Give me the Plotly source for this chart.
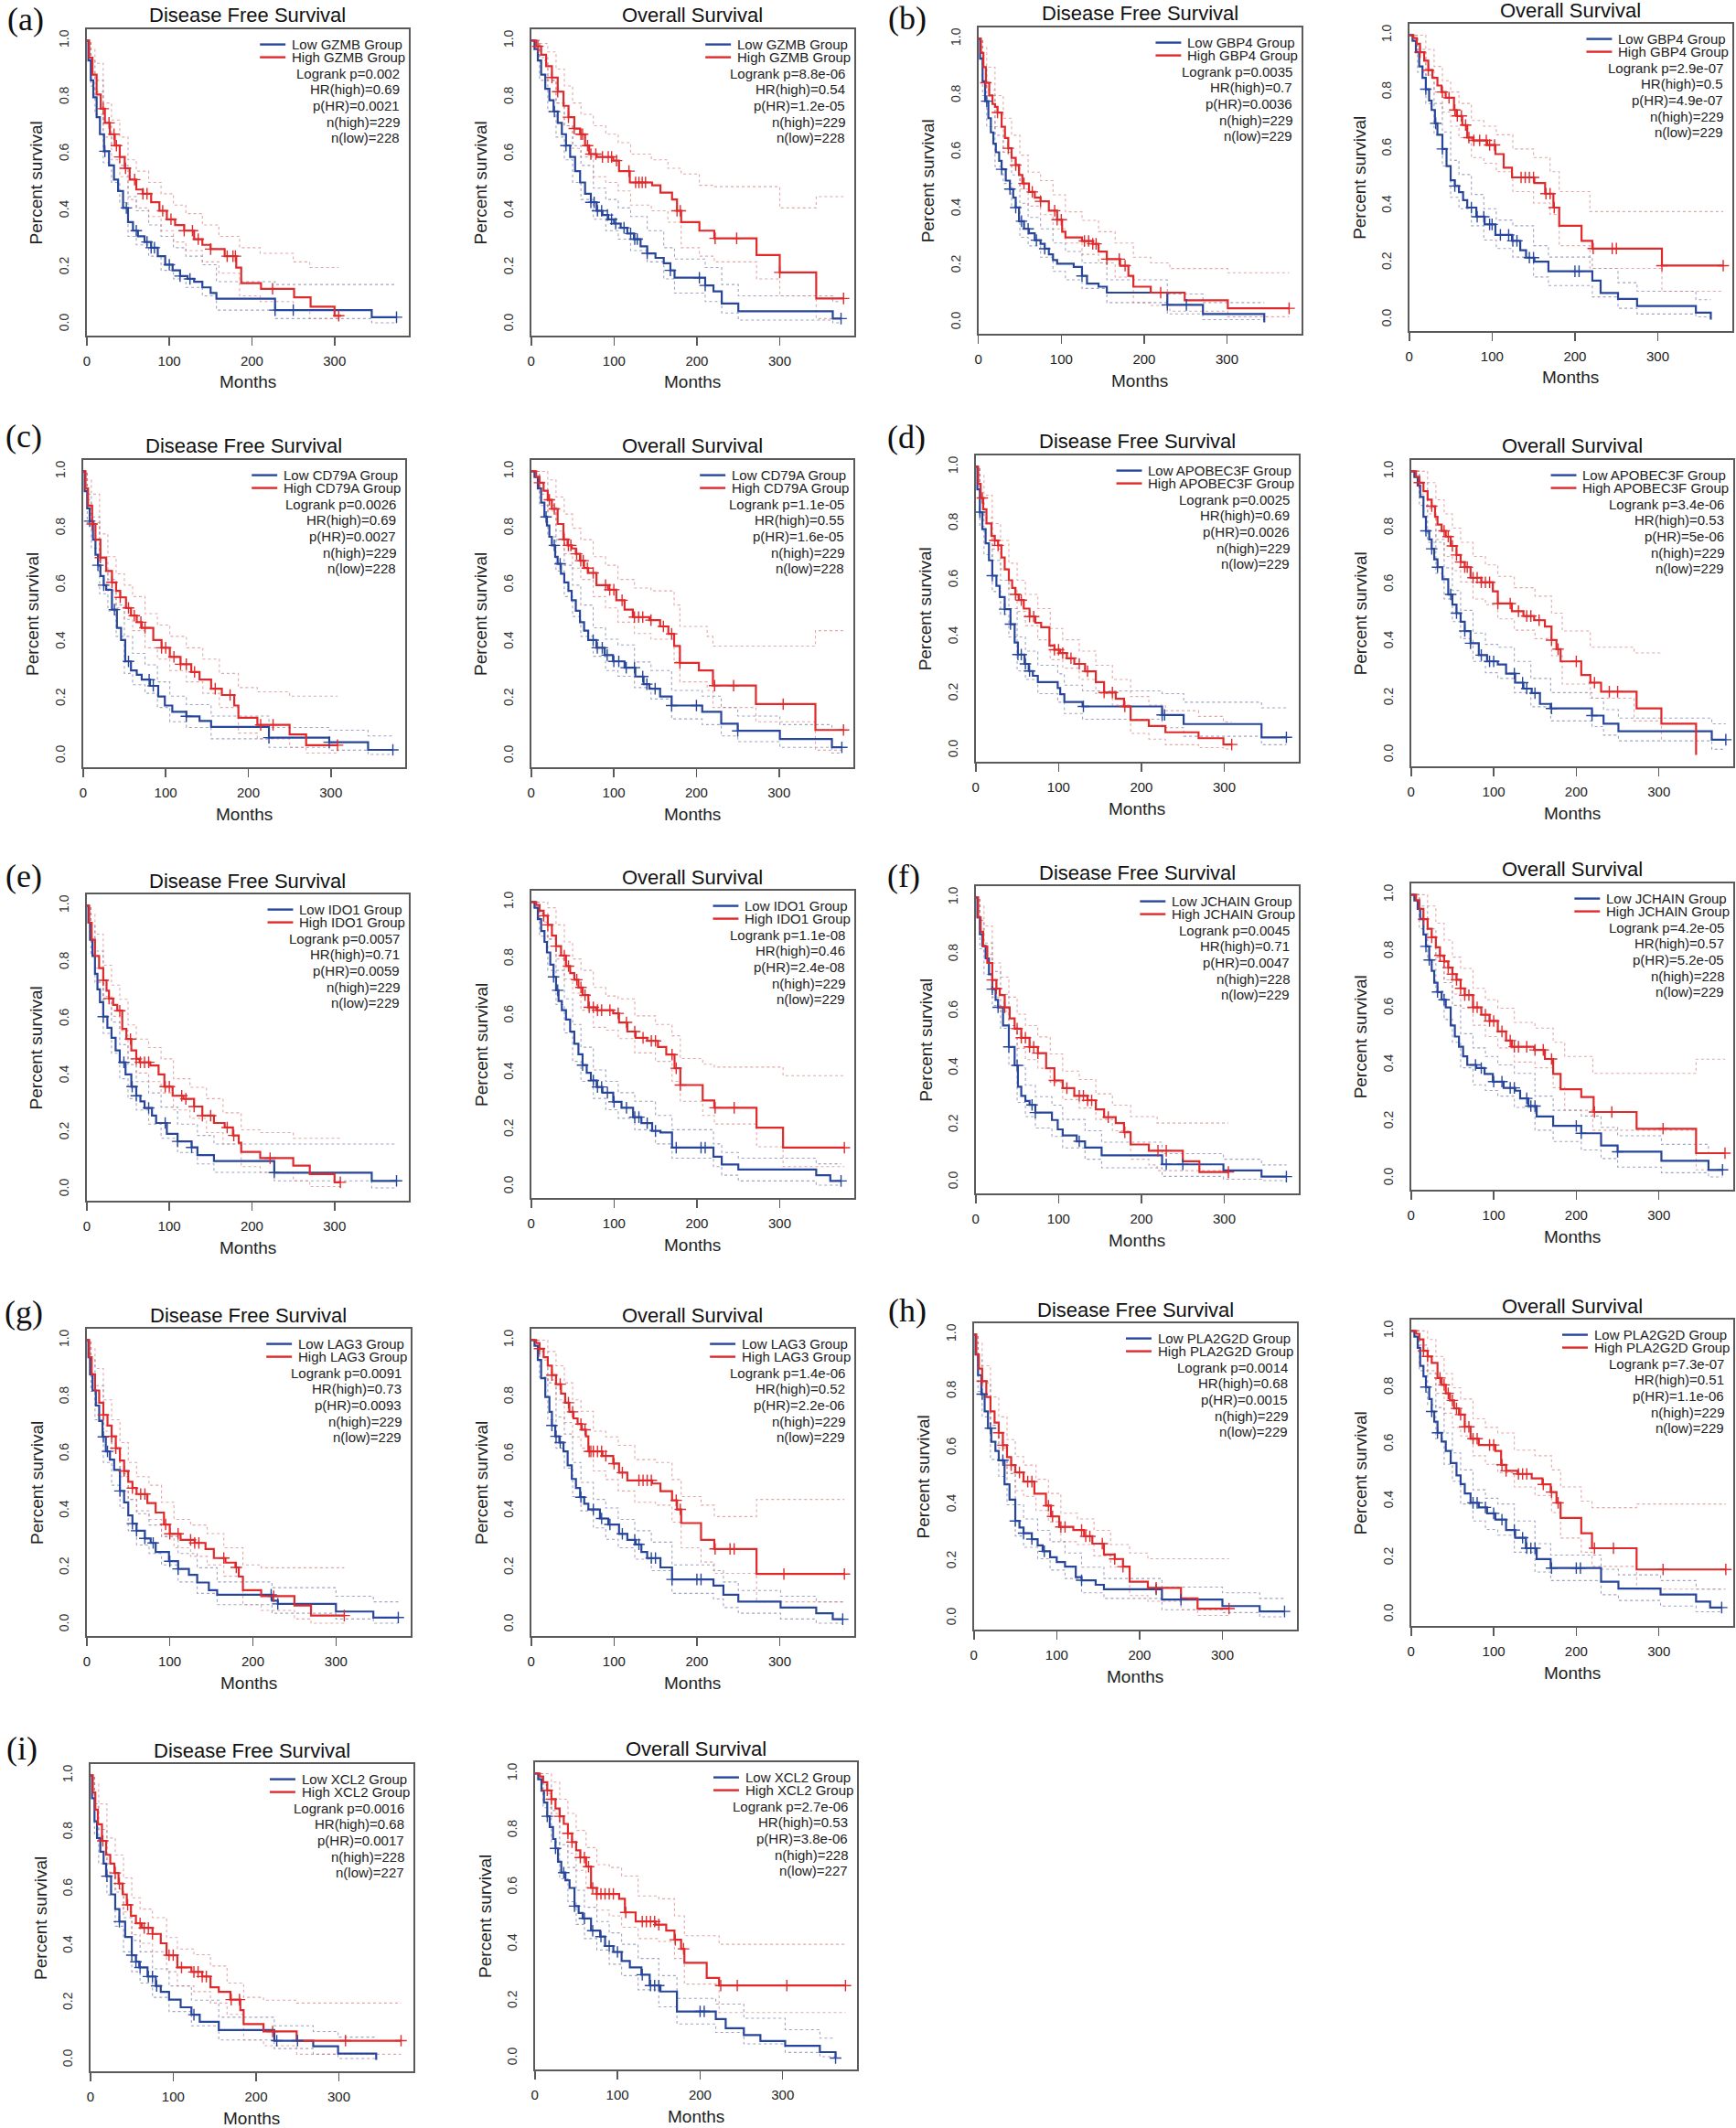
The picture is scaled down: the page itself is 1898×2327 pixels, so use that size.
import plotly.graph_objects as go

FIG_W, FIG_H = 1898, 2327
BLUE = '#27469b'
RED = '#e0292b'
BLUE_CI = 'rgba(120,125,165,0.7)'
RED_CI = 'rgba(215,130,130,0.7)'
FONT = 'Liberation Sans, Arial, sans-serif'
SERIF = 'Liberation Serif, Times New Roman, serif'

X_TICKS = [0, 100, 200, 300]
Y_TICKS = [0.0, 0.2, 0.4, 0.6, 0.8, 1.0]
Y_TICK_TEXT = ['0.0', '0.2', '0.4', '0.6', '0.8', '1.0']
PANEL_LETTERS = ['(a)', '(b)', '(c)', '(d)', '(e)', '(f)', '(g)', '(h)', '(i)']
GENES = ['GZMB', 'GBP4', 'CD79A', 'APOBEC3F', 'IDO1', 'JCHAIN', 'LAG3', 'PLA2G2D', 'XCL2']
TITLES = ['Disease Free Survival', 'Overall Survival']

# ===================== (a) GZMB =====================
A_DFS_LO_T = [0, 2, 5, 8, 12, 16, 21, 27, 33, 38, 44, 50, 56, 62, 70, 78, 86, 95, 104, 113, 122, 130, 140, 150, 157, 228, 345, 375]
A_DFS_LO_S = [1, 0.93, 0.86, 0.8, 0.73, 0.67, 0.61, 0.56, 0.51, 0.47, 0.41, 0.36, 0.33, 0.31, 0.29, 0.27, 0.24, 0.21, 0.19, 0.17, 0.16, 0.15, 0.13, 0.11, 0.09, 0.05, 0.025, 0.025]
A_DFS_HI_T = [0, 3, 7, 12, 17, 22, 28, 34, 40, 46, 52, 60, 68, 78, 88, 97, 107, 118, 130, 140, 150, 167, 181, 187, 211, 251, 271, 300, 308]
A_DFS_HI_S = [1, 0.94, 0.88, 0.81, 0.76, 0.71, 0.67, 0.63, 0.59, 0.55, 0.51, 0.475, 0.46, 0.43, 0.40, 0.37, 0.35, 0.33, 0.30, 0.28, 0.265, 0.24, 0.2, 0.145, 0.125, 0.095, 0.062, 0.03, 0.03]
A_DFS_LO_CI_T = [0, 5, 10, 20, 30, 40, 50, 60, 75, 90, 105, 120, 140, 157, 228, 345, 375]
A_DFS_LO_UP = [1, 0.93, 0.86, 0.71, 0.63, 0.56, 0.45, 0.40, 0.35, 0.31, 0.27, 0.24, 0.21, 0.15, 0.14, 0.14, 0.14]
A_DFS_LO_DN = [1, 0.84, 0.74, 0.57, 0.5, 0.43, 0.31, 0.28, 0.24, 0.19, 0.16, 0.13, 0.1, 0.05, 0.02, 0.005, 0.005]
A_DFS_HI_CI_T = [0, 5, 10, 20, 30, 40, 50, 60, 75, 90, 105, 120, 140, 160, 185, 210, 250, 270, 305]
A_DFS_HI_UP = [1, 0.97, 0.92, 0.78, 0.72, 0.66, 0.58, 0.54, 0.5, 0.46, 0.42, 0.39, 0.35, 0.31, 0.27, 0.25, 0.22, 0.2, 0.2]
A_DFS_HI_DN = [1, 0.89, 0.82, 0.66, 0.58, 0.52, 0.44, 0.41, 0.38, 0.33, 0.29, 0.26, 0.22, 0.18, 0.1, 0.08, 0.05, 0.02, 0.02]
A_DFS_LO_CENS = [22, 48, 60, 73, 78, 82, 100, 113, 125, 228, 250, 375]
A_DFS_HI_CENS = [20, 27, 33, 36, 40, 47, 58, 68, 73, 92, 102, 118, 128, 135, 150, 170, 177, 180, 225, 305]
A_DFS_STATS = ['Logrank p=0.002', 'HR(high)=0.69', 'p(HR)=0.0021', 'n(high)=229', 'n(low)=228']

A_OS_LO_T = [0, 4, 8, 12, 17, 22, 27, 32, 37, 42, 47, 53, 59, 65, 72, 79, 86, 93, 100, 108, 116, 124, 132, 140, 150, 160, 168, 173, 210, 220, 230, 250, 364, 374]
A_OS_LO_S = [1, 0.97, 0.93, 0.88, 0.83, 0.79, 0.75, 0.71, 0.67, 0.63, 0.59, 0.54, 0.5, 0.46, 0.43, 0.40, 0.385, 0.37, 0.355, 0.34, 0.32, 0.30, 0.275, 0.25, 0.234, 0.215, 0.19, 0.164, 0.137, 0.116, 0.073, 0.046, 0.02, 0.02]
A_OS_HI_T = [0, 6, 12, 18, 25, 32, 39, 45, 52, 59, 65, 70, 79, 99, 106, 119, 146, 156, 170, 176, 181, 203, 221, 272, 300, 344, 377]
A_OS_HI_S = [1, 0.98, 0.95, 0.91, 0.87, 0.82, 0.77, 0.73, 0.69, 0.67, 0.63, 0.6, 0.59, 0.577, 0.54, 0.5, 0.49, 0.464, 0.44, 0.40, 0.36, 0.33, 0.303, 0.244, 0.183, 0.091, 0.091]
A_OS_LO_CI_T = [0, 10, 20, 30, 40, 50, 60, 75, 90, 105, 120, 140, 160, 173, 210, 230, 250, 364, 374]
A_OS_LO_UP = [1, 0.94, 0.86, 0.78, 0.7, 0.63, 0.56, 0.48, 0.44, 0.41, 0.38, 0.33, 0.27, 0.23, 0.2, 0.14, 0.1, 0.08, 0.08]
A_OS_LO_DN = [1, 0.86, 0.75, 0.66, 0.58, 0.5, 0.44, 0.37, 0.33, 0.3, 0.26, 0.22, 0.16, 0.11, 0.08, 0.04, 0.015, 0.005, 0.005]
A_OS_HI_CI_T = [0, 10, 20, 30, 40, 50, 60, 75, 90, 105, 120, 145, 165, 181, 203, 221, 272, 300, 344, 377]
A_OS_HI_UP = [1, 0.99, 0.96, 0.9, 0.84, 0.78, 0.74, 0.7, 0.67, 0.64, 0.6, 0.58, 0.55, 0.53, 0.49, 0.485, 0.485, 0.41, 0.45, 0.45]
A_OS_HI_DN = [1, 0.93, 0.86, 0.78, 0.7, 0.62, 0.59, 0.52, 0.5, 0.47, 0.42, 0.4, 0.36, 0.27, 0.24, 0.22, 0.16, 0.1, 0.02, 0.02]
A_OS_LO_CENS = [28, 42, 72, 76, 80, 85, 92, 97, 102, 112, 120, 125, 128, 140, 168, 203, 210, 374]
A_OS_HI_CENS = [8, 25, 32, 45, 52, 60, 62, 68, 72, 78, 86, 93, 97, 103, 118, 126, 130, 134, 138, 176, 180, 222, 248, 300, 377]
A_OS_STATS = ['Logrank p=8.8e-06', 'HR(high)=0.54', 'p(HR)=1.2e-05', 'n(high)=229', 'n(low)=228']

# ===================== (b) GBP4 =====================
B_DFS_LO_T = [0, 2, 5, 8, 12, 15, 18, 21, 25, 28, 33, 38, 42, 45, 49, 55, 61, 68, 75, 80, 85, 90, 95, 115, 125, 131, 145, 155, 228, 271, 345]
B_DFS_LO_S = [1, 0.93, 0.85, 0.78, 0.72, 0.67, 0.63, 0.6, 0.57, 0.54, 0.5, 0.47, 0.44, 0.405, 0.357, 0.33, 0.314, 0.29, 0.277, 0.26, 0.24, 0.22, 0.207, 0.196, 0.164, 0.137, 0.126, 0.105, 0.062, 0.03, 0.0]
B_DFS_HI_T = [0, 3, 6, 9, 13, 17, 20, 23, 28, 32, 36, 40, 45, 49, 53, 61, 68, 75, 85, 95, 101, 105, 125, 138, 145, 155, 171, 181, 187, 208, 249, 301, 375]
B_DFS_HI_S = [1, 0.95, 0.9, 0.845, 0.8, 0.77, 0.76, 0.74, 0.69, 0.65, 0.614, 0.58, 0.555, 0.52, 0.49, 0.46, 0.44, 0.427, 0.394, 0.362, 0.32, 0.30, 0.287, 0.277, 0.25, 0.223, 0.2, 0.164, 0.126, 0.105, 0.078, 0.05, 0.05]
B_DFS_LO_CI_T = [0, 5, 10, 20, 30, 40, 50, 60, 75, 90, 105, 125, 155, 228, 271, 345]
B_DFS_LO_UP = [1, 0.9, 0.8, 0.66, 0.6, 0.52, 0.42, 0.37, 0.33, 0.28, 0.25, 0.21, 0.15, 0.1, 0.07, 0.07]
B_DFS_LO_DN = [1, 0.8, 0.69, 0.55, 0.49, 0.41, 0.3, 0.27, 0.23, 0.18, 0.15, 0.12, 0.07, 0.03, 0.01, 0.01]
B_DFS_HI_CI_T = [0, 5, 10, 20, 30, 40, 50, 60, 75, 90, 105, 125, 145, 165, 187, 208, 231, 301, 375]
B_DFS_HI_UP = [1, 0.97, 0.9, 0.8, 0.72, 0.66, 0.59, 0.53, 0.5, 0.45, 0.39, 0.36, 0.32, 0.28, 0.23, 0.21, 0.19, 0.175, 0.175]
B_DFS_HI_DN = [1, 0.9, 0.82, 0.69, 0.6, 0.55, 0.47, 0.41, 0.38, 0.33, 0.28, 0.24, 0.21, 0.16, 0.07, 0.06, 0.04, 0.02, 0.02]
B_DFS_LO_CENS = [10, 28, 38, 45, 52, 60, 70, 80, 125, 228, 251]
B_DFS_HI_CENS = [9, 23, 36, 45, 55, 65, 75, 92, 95, 100, 128, 133, 138, 142, 155, 170, 177, 220, 375]
B_DFS_STATS = ['Logrank p=0.0035', 'HR(high)=0.7', 'p(HR)=0.0036', 'n(high)=229', 'n(low)=229']

B_OS_LO_T = [0, 4, 8, 12, 16, 20, 24, 27, 31, 34, 40, 45, 50, 55, 60, 65, 70, 81, 91, 104, 124, 134, 141, 151, 168, 221, 231, 252, 275, 346, 364]
B_OS_LO_S = [1, 0.98, 0.94, 0.89, 0.85, 0.81, 0.77, 0.737, 0.69, 0.65, 0.6, 0.54, 0.49, 0.47, 0.448, 0.42, 0.394, 0.362, 0.335, 0.298, 0.277, 0.244, 0.218, 0.204, 0.17, 0.137, 0.094, 0.073, 0.048, 0.025, 0.0]
B_OS_HI_T = [0, 5, 9, 13, 18, 23, 28, 34, 39, 44, 54, 57, 64, 70, 77, 94, 104, 114, 124, 151, 164, 174, 181, 208, 221, 305, 379]
B_OS_HI_S = [1, 0.99, 0.97, 0.94, 0.91, 0.877, 0.85, 0.823, 0.8, 0.78, 0.737, 0.716, 0.684, 0.64, 0.63, 0.614, 0.582, 0.534, 0.5, 0.48, 0.443, 0.394, 0.33, 0.277, 0.25, 0.19, 0.19]
B_OS_LO_CI_T = [0, 10, 20, 30, 40, 50, 60, 75, 90, 105, 125, 150, 168, 221, 252, 275, 346, 364]
B_OS_LO_UP = [1, 0.95, 0.86, 0.76, 0.66, 0.56, 0.51, 0.44, 0.39, 0.35, 0.33, 0.26, 0.22, 0.18, 0.13, 0.1, 0.07, 0.07]
B_OS_LO_DN = [1, 0.87, 0.76, 0.65, 0.54, 0.43, 0.39, 0.33, 0.28, 0.25, 0.22, 0.15, 0.12, 0.08, 0.04, 0.02, 0.01, 0.01]
B_OS_HI_CI_T = [0, 10, 20, 30, 40, 50, 60, 75, 90, 105, 125, 150, 170, 181, 218, 305, 379]
B_OS_HI_UP = [1, 1.0, 0.95, 0.89, 0.84, 0.8, 0.76, 0.7, 0.68, 0.65, 0.6, 0.57, 0.52, 0.45, 0.38, 0.38, 0.38]
B_OS_HI_DN = [1, 0.94, 0.88, 0.8, 0.73, 0.68, 0.64, 0.57, 0.55, 0.52, 0.45, 0.41, 0.37, 0.26, 0.18, 0.1, 0.1]
B_OS_LO_CENS = [20, 32, 40, 55, 75, 82, 90, 97, 100, 110, 120, 125, 130, 145, 150, 200, 205]
B_OS_HI_CENS = [13, 23, 40, 48, 55, 58, 63, 68, 72, 78, 85, 93, 97, 103, 135, 140, 145, 150, 165, 170, 175, 222, 245, 250, 305, 379]
B_OS_STATS = ['Logrank p=2.9e-07', 'HR(high)=0.5', 'p(HR)=4.9e-07', 'n(high)=229', 'n(low)=229']

# ===================== (c) CD79A =====================
C_DFS_LO_T = [0, 2, 5, 8, 12, 15, 18, 21, 25, 28, 35, 41, 46, 51, 58, 65, 71, 81, 91, 99, 108, 125, 141, 155, 225, 298, 345, 375]
C_DFS_LO_S = [1, 0.93, 0.87, 0.825, 0.76, 0.707, 0.67, 0.632, 0.6, 0.584, 0.514, 0.45, 0.407, 0.332, 0.3, 0.285, 0.268, 0.246, 0.209, 0.177, 0.155, 0.139, 0.123, 0.102, 0.064, 0.048, 0.021, 0.021]
C_DFS_HI_T = [0, 3, 6, 11, 15, 21, 28, 35, 40, 45, 52, 58, 65, 71, 85, 95, 105, 118, 131, 141, 155, 168, 183, 188, 211, 250, 270, 308]
C_DFS_HI_S = [1, 0.94, 0.88, 0.815, 0.76, 0.697, 0.65, 0.61, 0.58, 0.557, 0.52, 0.493, 0.47, 0.45, 0.407, 0.38, 0.348, 0.322, 0.295, 0.268, 0.236, 0.214, 0.177, 0.134, 0.109, 0.075, 0.0375, 0.0375]
C_DFS_LO_CI_T = [0, 5, 10, 20, 30, 40, 50, 60, 75, 90, 105, 125, 155, 225, 298, 345, 375]
C_DFS_LO_UP = [1, 0.92, 0.84, 0.69, 0.62, 0.53, 0.42, 0.36, 0.32, 0.26, 0.21, 0.18, 0.14, 0.1, 0.09, 0.07, 0.07]
C_DFS_LO_DN = [1, 0.82, 0.73, 0.57, 0.51, 0.42, 0.29, 0.25, 0.22, 0.17, 0.12, 0.1, 0.06, 0.03, 0.02, 0.005, 0.005]
C_DFS_HI_CI_T = [0, 5, 10, 20, 30, 40, 50, 60, 75, 90, 105, 125, 145, 165, 188, 211, 250, 270, 308]
C_DFS_HI_UP = [1, 0.97, 0.92, 0.78, 0.7, 0.64, 0.6, 0.56, 0.5, 0.46, 0.42, 0.38, 0.34, 0.29, 0.24, 0.225, 0.21, 0.21, 0.21]
C_DFS_HI_DN = [1, 0.9, 0.82, 0.65, 0.58, 0.52, 0.48, 0.44, 0.38, 0.34, 0.3, 0.26, 0.22, 0.17, 0.08, 0.06, 0.03, 0.01, 0.01]
C_DFS_LO_CENS = [8, 18, 25, 38, 55, 80, 85, 125, 225, 298, 375]
C_DFS_HI_CENS = [11, 21, 35, 45, 55, 62, 70, 75, 95, 100, 110, 118, 125, 135, 160, 178, 215, 230, 308]
C_DFS_STATS = ['Logrank p=0.0026', 'HR(high)=0.69', 'p(HR)=0.0027', 'n(high)=229', 'n(low)=228']

C_OS_LO_T = [0, 4, 8, 12, 16, 19, 22, 25, 29, 32, 36, 40, 45, 49, 54, 59, 64, 69, 79, 89, 99, 113, 126, 136, 143, 156, 170, 207, 230, 250, 301, 364, 376]
C_OS_LO_S = [1, 0.98, 0.94, 0.89, 0.84, 0.81, 0.77, 0.74, 0.7, 0.675, 0.64, 0.61, 0.58, 0.547, 0.51, 0.47, 0.44, 0.407, 0.38, 0.354, 0.332, 0.31, 0.279, 0.252, 0.236, 0.209, 0.177, 0.155, 0.113, 0.088, 0.059, 0.03, 0.03]
C_OS_HI_T = [0, 6, 10, 15, 20, 25, 32, 39, 44, 49, 54, 59, 64, 69, 79, 93, 103, 113, 123, 143, 156, 166, 173, 180, 203, 220, 272, 344, 378]
C_OS_HI_S = [1, 0.98, 0.96, 0.932, 0.9, 0.868, 0.815, 0.761, 0.74, 0.729, 0.71, 0.686, 0.66, 0.643, 0.6, 0.584, 0.547, 0.514, 0.488, 0.477, 0.455, 0.429, 0.386, 0.327, 0.3, 0.247, 0.182, 0.091, 0.091]
C_OS_LO_CI_T = [0, 10, 20, 30, 40, 50, 60, 75, 90, 105, 125, 145, 170, 207, 230, 250, 301, 364, 376]
C_OS_LO_UP = [1, 0.96, 0.88, 0.76, 0.67, 0.6, 0.53, 0.45, 0.41, 0.39, 0.33, 0.3, 0.23, 0.21, 0.17, 0.14, 0.11, 0.09, 0.09]
C_OS_LO_DN = [1, 0.88, 0.77, 0.65, 0.56, 0.49, 0.42, 0.35, 0.3, 0.28, 0.24, 0.2, 0.13, 0.11, 0.07, 0.05, 0.03, 0.01, 0.01]
C_OS_HI_CI_T = [0, 10, 20, 30, 40, 50, 60, 75, 90, 105, 125, 145, 173, 180, 213, 220, 272, 344, 378]
C_OS_HI_UP = [1, 1.0, 0.97, 0.91, 0.85, 0.8, 0.76, 0.7, 0.67, 0.62, 0.59, 0.58, 0.53, 0.455, 0.42, 0.386, 0.386, 0.44, 0.44]
C_OS_HI_DN = [1, 0.92, 0.86, 0.79, 0.71, 0.66, 0.62, 0.56, 0.52, 0.47, 0.43, 0.41, 0.33, 0.26, 0.23, 0.17, 0.12, 0.02, 0.02]
C_OS_LO_CENS = [18, 28, 35, 75, 80, 86, 92, 100, 106, 115, 125, 135, 140, 150, 170, 200, 250, 376]
C_OS_HI_CENS = [10, 22, 28, 40, 45, 48, 55, 60, 63, 68, 75, 90, 95, 100, 110, 125, 130, 135, 145, 160, 170, 180, 222, 245, 305, 378]
C_OS_STATS = ['Logrank p=1.1e-05', 'HR(high)=0.55', 'p(HR)=1.6e-05', 'n(high)=229', 'n(low)=228']

# ===================== (d) APOBEC3F =====================
D_DFS_LO_T = [0, 2, 5, 8, 12, 16, 20, 25, 29, 35, 42, 47, 51, 59, 64, 69, 75, 99, 102, 107, 129, 225, 251, 345, 375]
D_DFS_LO_S = [1, 0.92, 0.84, 0.78, 0.73, 0.67, 0.616, 0.58, 0.541, 0.498, 0.445, 0.38, 0.338, 0.305, 0.28, 0.263, 0.241, 0.22, 0.198, 0.171, 0.155, 0.125, 0.093, 0.046, 0.046]
D_DFS_HI_T = [0, 3, 6, 9, 13, 19, 23, 27, 31, 35, 40, 44, 48, 52, 58, 65, 72, 79, 89, 95, 102, 110, 119, 132, 145, 155, 169, 179, 187, 209, 229, 269, 299, 309]
D_DFS_HI_S = [1, 0.94, 0.89, 0.85, 0.8, 0.756, 0.74, 0.723, 0.68, 0.638, 0.6, 0.573, 0.55, 0.53, 0.5, 0.472, 0.45, 0.434, 0.37, 0.355, 0.343, 0.325, 0.305, 0.279, 0.241, 0.204, 0.182, 0.155, 0.107, 0.086, 0.064, 0.043, 0.021, 0.021]
D_DFS_LO_CI_T = [0, 5, 10, 20, 30, 40, 50, 60, 75, 99, 107, 129, 225, 251, 345, 375]
D_DFS_LO_UP = [1, 0.89, 0.8, 0.67, 0.6, 0.5, 0.4, 0.35, 0.3, 0.27, 0.23, 0.21, 0.2, 0.17, 0.15, 0.15]
D_DFS_LO_DN = [1, 0.79, 0.69, 0.56, 0.48, 0.4, 0.28, 0.25, 0.2, 0.17, 0.13, 0.11, 0.08, 0.05, 0.02, 0.02]
D_DFS_HI_CI_T = [0, 5, 10, 20, 30, 40, 50, 60, 75, 90, 105, 125, 145, 165, 187, 209, 229, 269, 299, 309]
D_DFS_HI_UP = [1, 0.97, 0.9, 0.8, 0.74, 0.66, 0.6, 0.55, 0.5, 0.43, 0.39, 0.35, 0.3, 0.25, 0.19, 0.16, 0.14, 0.12, 0.1, 0.1]
D_DFS_HI_DN = [1, 0.9, 0.82, 0.71, 0.64, 0.57, 0.49, 0.44, 0.39, 0.32, 0.29, 0.25, 0.2, 0.16, 0.06, 0.04, 0.02, 0.01, 0.005, 0.005]
D_DFS_LO_CENS = [5, 20, 35, 42, 51, 55, 60, 65, 130, 225, 228, 375]
D_DFS_HI_CENS = [8, 23, 27, 48, 55, 65, 70, 95, 100, 105, 115, 125, 135, 155, 165, 180, 309]
D_DFS_STATS = ['Logrank p=0.0025', 'HR(high)=0.69', 'p(HR)=0.0026', 'n(high)=229', 'n(low)=229']

D_OS_LO_T = [0, 4, 8, 11, 15, 18, 22, 25, 28, 32, 38, 45, 50, 55, 60, 65, 72, 82, 92, 105, 115, 126, 136, 146, 156, 169, 219, 233, 251, 364, 381]
D_OS_LO_S = [1, 0.98, 0.95, 0.91, 0.84, 0.79, 0.76, 0.727, 0.69, 0.662, 0.62, 0.566, 0.53, 0.5, 0.47, 0.437, 0.394, 0.352, 0.33, 0.319, 0.287, 0.255, 0.234, 0.218, 0.18, 0.164, 0.139, 0.11, 0.084, 0.054, 0.054]
D_OS_HI_T = [0, 6, 10, 15, 20, 25, 29, 32, 37, 42, 48, 55, 60, 65, 72, 85, 99, 105, 122, 136, 149, 162, 170, 176, 181, 206, 217, 230, 273, 303, 345]
D_OS_HI_S = [1, 0.98, 0.96, 0.93, 0.9, 0.877, 0.84, 0.812, 0.79, 0.77, 0.737, 0.705, 0.68, 0.662, 0.625, 0.609, 0.577, 0.534, 0.507, 0.49, 0.475, 0.453, 0.405, 0.373, 0.33, 0.282, 0.255, 0.223, 0.164, 0.11, 0.0]
D_OS_LO_CI_T = [0, 10, 20, 30, 40, 50, 60, 75, 90, 105, 125, 145, 169, 219, 233, 251, 364, 381]
D_OS_LO_UP = [1, 0.96, 0.87, 0.75, 0.66, 0.58, 0.51, 0.43, 0.39, 0.38, 0.33, 0.27, 0.22, 0.2, 0.16, 0.13, 0.11, 0.11]
D_OS_LO_DN = [1, 0.88, 0.75, 0.64, 0.55, 0.47, 0.41, 0.33, 0.29, 0.27, 0.22, 0.17, 0.12, 0.1, 0.07, 0.05, 0.02, 0.02]
D_OS_HI_CI_T = [0, 10, 20, 30, 40, 50, 60, 75, 90, 105, 125, 150, 170, 183, 217, 270, 303]
D_OS_HI_UP = [1, 1.0, 0.96, 0.9, 0.85, 0.8, 0.75, 0.7, 0.67, 0.63, 0.59, 0.56, 0.5, 0.437, 0.38, 0.36, 0.36]
D_OS_HI_DN = [1, 0.92, 0.85, 0.76, 0.7, 0.65, 0.61, 0.55, 0.53, 0.48, 0.44, 0.41, 0.35, 0.25, 0.2, 0.12, 0.05]
D_OS_LO_CENS = [18, 25, 32, 48, 55, 65, 72, 85, 95, 100, 125, 135, 140, 150, 170, 219, 381]
D_OS_HI_CENS = [10, 25, 40, 45, 50, 55, 60, 65, 68, 75, 80, 85, 90, 95, 105, 120, 130, 140, 145, 155, 170, 178, 200, 222, 240, 250]
D_OS_STATS = ['Logrank p=3.4e-06', 'HR(high)=0.53', 'p(HR)=5e-06', 'n(high)=229', 'n(low)=229']

# ===================== (e) IDO1 =====================
E_DFS_LO_T = [0, 2, 4, 7, 10, 13, 16, 20, 25, 30, 35, 40, 47, 54, 60, 65, 70, 79, 84, 97, 110, 127, 134, 154, 227, 345, 375]
E_DFS_LO_S = [1, 0.94, 0.88, 0.823, 0.76, 0.705, 0.66, 0.609, 0.57, 0.534, 0.49, 0.448, 0.405, 0.362, 0.33, 0.31, 0.287, 0.26, 0.234, 0.196, 0.169, 0.148, 0.121, 0.1, 0.059, 0.03, 0.03]
E_DFS_HI_T = [0, 3, 6, 10, 15, 20, 24, 27, 32, 37, 43, 48, 54, 60, 64, 77, 87, 94, 104, 117, 130, 140, 154, 167, 177, 184, 187, 210, 250, 270, 300, 307]
E_DFS_HI_S = [1, 0.94, 0.88, 0.823, 0.78, 0.737, 0.7, 0.673, 0.65, 0.63, 0.566, 0.53, 0.49, 0.46, 0.448, 0.437, 0.405, 0.362, 0.33, 0.319, 0.292, 0.26, 0.234, 0.218, 0.19, 0.164, 0.132, 0.11, 0.084, 0.054, 0.025, 0.025]
E_DFS_LO_CI_T = [0, 5, 10, 20, 30, 40, 50, 60, 75, 90, 110, 134, 154, 227, 345, 375]
E_DFS_LO_UP = [1, 0.93, 0.84, 0.67, 0.59, 0.51, 0.44, 0.38, 0.34, 0.29, 0.23, 0.19, 0.16, 0.16, 0.16, 0.16]
E_DFS_LO_DN = [1, 0.83, 0.73, 0.55, 0.48, 0.39, 0.32, 0.28, 0.23, 0.18, 0.13, 0.09, 0.06, 0.03, 0.005, 0.005]
E_DFS_HI_CI_T = [0, 5, 10, 20, 30, 40, 50, 60, 75, 90, 105, 125, 145, 165, 187, 210, 250, 270, 307]
E_DFS_HI_UP = [1, 0.97, 0.9, 0.79, 0.72, 0.67, 0.58, 0.53, 0.5, 0.46, 0.39, 0.36, 0.32, 0.27, 0.21, 0.2, 0.18, 0.18, 0.18]
E_DFS_HI_DN = [1, 0.89, 0.78, 0.68, 0.61, 0.56, 0.46, 0.41, 0.38, 0.34, 0.28, 0.25, 0.2, 0.16, 0.08, 0.06, 0.03, 0.01, 0.005]
E_DFS_LO_CENS = [20, 45, 55, 60, 75, 95, 110, 127, 227, 375]
E_DFS_HI_CENS = [20, 27, 40, 53, 60, 65, 70, 75, 95, 100, 115, 120, 130, 140, 150, 170, 178, 222, 307]
E_DFS_STATS = ['Logrank p=0.0057', 'HR(high)=0.71', 'p(HR)=0.0059', 'n(high)=229', 'n(low)=229']

E_OS_LO_T = [0, 4, 8, 12, 16, 19, 23, 27, 30, 33, 37, 42, 47, 52, 57, 62, 67, 72, 79, 86, 99, 109, 123, 133, 146, 156, 170, 220, 230, 250, 344, 361, 374]
E_OS_LO_S = [1, 0.98, 0.94, 0.898, 0.86, 0.823, 0.78, 0.737, 0.69, 0.652, 0.62, 0.587, 0.545, 0.502, 0.465, 0.427, 0.4, 0.373, 0.35, 0.33, 0.298, 0.277, 0.244, 0.223, 0.196, 0.19, 0.137, 0.105, 0.078, 0.06, 0.04, 0.02, 0.02]
E_OS_HI_T = [0, 6, 10, 15, 20, 25, 30, 36, 42, 47, 52, 57, 62, 69, 79, 99, 106, 116, 126, 140, 153, 163, 173, 180, 207, 221, 272, 304, 378]
E_OS_HI_S = [1, 0.99, 0.97, 0.952, 0.92, 0.882, 0.845, 0.812, 0.775, 0.75, 0.727, 0.7, 0.673, 0.63, 0.62, 0.609, 0.577, 0.545, 0.523, 0.512, 0.491, 0.464, 0.416, 0.357, 0.303, 0.277, 0.207, 0.137, 0.137]
E_OS_LO_CI_T = [0, 10, 20, 30, 40, 50, 60, 75, 90, 105, 125, 150, 170, 220, 230, 250, 344, 374]
E_OS_LO_UP = [1, 0.96, 0.87, 0.76, 0.66, 0.57, 0.49, 0.41, 0.37, 0.33, 0.3, 0.25, 0.2, 0.15, 0.12, 0.1, 0.08, 0.08]
E_OS_LO_DN = [1, 0.88, 0.76, 0.64, 0.54, 0.44, 0.37, 0.31, 0.27, 0.24, 0.2, 0.15, 0.1, 0.07, 0.04, 0.02, 0.005, 0.005]
E_OS_HI_CI_T = [0, 10, 20, 30, 40, 50, 60, 75, 90, 105, 125, 150, 170, 180, 207, 221, 272, 304, 378]
E_OS_HI_UP = [1, 1.0, 0.98, 0.92, 0.86, 0.8, 0.76, 0.7, 0.67, 0.66, 0.6, 0.57, 0.53, 0.45, 0.43, 0.42, 0.42, 0.39, 0.39]
E_OS_HI_DN = [1, 0.93, 0.87, 0.8, 0.73, 0.68, 0.62, 0.56, 0.55, 0.52, 0.47, 0.44, 0.37, 0.3, 0.25, 0.22, 0.14, 0.07, 0.07]
E_OS_LO_CENS = [27, 32, 62, 75, 80, 85, 92, 100, 115, 125, 130, 140, 150, 175, 205, 210, 374]
E_OS_HI_CENS = [15, 20, 30, 40, 45, 55, 60, 65, 70, 75, 80, 85, 95, 105, 115, 125, 135, 145, 150, 170, 175, 180, 222, 245, 378]
E_OS_STATS = ['Logrank p=1.1e-08', 'HR(high)=0.46', 'p(HR)=2.4e-08', 'n(high)=229', 'n(low)=229']

# ===================== (f) JCHAIN =====================
F_DFS_LO_T = [0, 2, 5, 8, 12, 16, 20, 24, 27, 33, 40, 47, 51, 55, 60, 65, 72, 92, 99, 105, 122, 132, 152, 225, 299, 345, 375]
F_DFS_LO_S = [1, 0.93, 0.871, 0.83, 0.786, 0.73, 0.678, 0.64, 0.614, 0.55, 0.475, 0.41, 0.335, 0.303, 0.285, 0.271, 0.244, 0.218, 0.185, 0.164, 0.143, 0.121, 0.094, 0.062, 0.041, 0.019, 0.019]
F_DFS_HI_T = [0, 3, 6, 9, 14, 20, 25, 29, 35, 41, 47, 55, 65, 75, 85, 95, 105, 119, 135, 145, 155, 169, 179, 187, 209, 250, 270, 305]
F_DFS_HI_S = [1, 0.93, 0.88, 0.828, 0.77, 0.71, 0.68, 0.657, 0.614, 0.575, 0.539, 0.507, 0.475, 0.453, 0.4, 0.357, 0.33, 0.303, 0.287, 0.255, 0.228, 0.207, 0.175, 0.132, 0.11, 0.073, 0.035, 0.035]
F_DFS_LO_CI_T = [0, 5, 10, 20, 30, 40, 50, 60, 72, 92, 105, 132, 152, 225, 299, 345, 375]
F_DFS_LO_UP = [1, 0.92, 0.84, 0.74, 0.66, 0.55, 0.41, 0.34, 0.3, 0.27, 0.22, 0.18, 0.14, 0.1, 0.08, 0.06, 0.06]
F_DFS_LO_DN = [1, 0.82, 0.73, 0.62, 0.54, 0.41, 0.28, 0.23, 0.19, 0.16, 0.12, 0.08, 0.05, 0.02, 0.01, 0.005, 0.005]
F_DFS_HI_CI_T = [0, 5, 10, 20, 30, 40, 50, 60, 75, 90, 105, 125, 145, 165, 187, 209, 219, 305]
F_DFS_HI_UP = [1, 0.97, 0.9, 0.77, 0.72, 0.65, 0.59, 0.55, 0.51, 0.45, 0.39, 0.36, 0.31, 0.27, 0.23, 0.23, 0.207, 0.207]
F_DFS_HI_DN = [1, 0.89, 0.8, 0.65, 0.6, 0.54, 0.47, 0.43, 0.4, 0.35, 0.29, 0.26, 0.22, 0.18, 0.08, 0.06, 0.04, 0.01]
F_DFS_LO_CENS = [20, 27, 40, 50, 68, 72, 125, 230, 250, 375]
F_DFS_HI_CENS = [20, 25, 35, 50, 55, 60, 65, 70, 75, 95, 110, 125, 130, 135, 140, 160, 180, 220, 230, 305]
F_DFS_STATS = ['Logrank p=0.0045', 'HR(high)=0.71', 'p(HR)=0.0047', 'n(high)=228', 'n(low)=229']

F_OS_LO_T = [0, 4, 8, 11, 15, 18, 22, 25, 28, 32, 37, 42, 48, 53, 58, 63, 68, 79, 89, 99, 112, 126, 132, 142, 152, 172, 206, 230, 250, 303, 360, 377]
F_OS_LO_S = [1, 0.98, 0.95, 0.914, 0.86, 0.818, 0.77, 0.732, 0.69, 0.657, 0.63, 0.603, 0.539, 0.5, 0.464, 0.43, 0.4, 0.389, 0.368, 0.341, 0.319, 0.309, 0.282, 0.255, 0.218, 0.185, 0.159, 0.116, 0.094, 0.062, 0.03, 0.03]
F_OS_HI_T = [0, 6, 10, 15, 20, 25, 30, 35, 40, 45, 50, 55, 60, 65, 75, 85, 95, 105, 115, 122, 149, 162, 172, 181, 206, 221, 273, 345, 380]
F_OS_HI_S = [1, 0.98, 0.95, 0.914, 0.88, 0.85, 0.815, 0.786, 0.765, 0.743, 0.72, 0.7, 0.67, 0.646, 0.603, 0.577, 0.555, 0.518, 0.486, 0.464, 0.453, 0.421, 0.368, 0.314, 0.287, 0.234, 0.175, 0.089, 0.089]
F_OS_LO_CI_T = [0, 10, 20, 30, 40, 50, 60, 75, 90, 105, 125, 150, 172, 206, 230, 250, 303, 360, 377]
F_OS_LO_UP = [1, 0.96, 0.88, 0.78, 0.69, 0.61, 0.51, 0.46, 0.43, 0.4, 0.37, 0.29, 0.24, 0.22, 0.18, 0.15, 0.12, 0.09, 0.09]
F_OS_LO_DN = [1, 0.88, 0.77, 0.66, 0.56, 0.48, 0.39, 0.33, 0.31, 0.29, 0.25, 0.17, 0.13, 0.1, 0.07, 0.04, 0.02, 0.005, 0.005]
F_OS_HI_CI_T = [0, 10, 20, 30, 40, 50, 60, 75, 90, 105, 125, 150, 172, 186, 220, 345, 380]
F_OS_HI_UP = [1, 1.0, 0.96, 0.9, 0.84, 0.78, 0.74, 0.67, 0.63, 0.6, 0.55, 0.53, 0.48, 0.43, 0.37, 0.42, 0.42]
F_OS_HI_DN = [1, 0.92, 0.85, 0.77, 0.7, 0.65, 0.6, 0.54, 0.5, 0.46, 0.41, 0.39, 0.32, 0.24, 0.17, 0.03, 0.03]
F_OS_LO_CENS = [18, 22, 32, 40, 78, 85, 100, 110, 120, 125, 140, 145, 150, 200, 206, 250, 377]
F_OS_HI_CENS = [15, 25, 35, 40, 45, 50, 55, 60, 65, 70, 75, 80, 90, 95, 100, 110, 120, 125, 130, 140, 150, 160, 170, 222, 243, 305, 380]
F_OS_STATS = ['Logrank p=4.2e-05', 'HR(high)=0.57', 'p(HR)=5.2e-05', 'n(high)=228', 'n(low)=229']

# ===================== (g) LAG3 =====================
G_DFS_LO_T = [0, 2, 4, 7, 11, 15, 19, 23, 28, 33, 40, 45, 50, 55, 60, 70, 77, 83, 99, 110, 123, 133, 147, 157, 223, 230, 300, 345, 375]
G_DFS_LO_S = [1, 0.94, 0.88, 0.823, 0.77, 0.716, 0.66, 0.609, 0.58, 0.544, 0.47, 0.43, 0.384, 0.355, 0.33, 0.303, 0.287, 0.255, 0.223, 0.196, 0.175, 0.148, 0.121, 0.105, 0.084, 0.073, 0.046, 0.025, 0.025]
G_DFS_HI_T = [0, 3, 6, 10, 15, 20, 25, 30, 35, 40, 45, 50, 55, 60, 73, 83, 93, 100, 113, 130, 143, 153, 167, 179, 183, 188, 210, 250, 270, 310]
G_DFS_HI_S = [1, 0.94, 0.88, 0.823, 0.78, 0.737, 0.7, 0.662, 0.62, 0.577, 0.54, 0.502, 0.48, 0.459, 0.427, 0.394, 0.352, 0.319, 0.298, 0.287, 0.266, 0.234, 0.218, 0.201, 0.169, 0.121, 0.1, 0.0675, 0.032, 0.032]
G_DFS_LO_CI_T = [0, 5, 10, 20, 30, 40, 50, 60, 75, 90, 110, 133, 157, 223, 300, 345, 375]
G_DFS_LO_UP = [1, 0.93, 0.84, 0.7, 0.62, 0.53, 0.44, 0.39, 0.35, 0.31, 0.25, 0.2, 0.15, 0.13, 0.1, 0.08, 0.08]
G_DFS_LO_DN = [1, 0.82, 0.72, 0.57, 0.49, 0.41, 0.33, 0.28, 0.25, 0.21, 0.15, 0.11, 0.07, 0.04, 0.02, 0.005, 0.005]
G_DFS_HI_CI_T = [0, 5, 10, 20, 30, 40, 50, 60, 75, 90, 105, 125, 145, 165, 188, 210, 250, 270, 310]
G_DFS_HI_UP = [1, 0.97, 0.9, 0.79, 0.72, 0.64, 0.57, 0.52, 0.49, 0.43, 0.37, 0.35, 0.32, 0.27, 0.21, 0.2, 0.2, 0.2, 0.2]
G_DFS_HI_DN = [1, 0.88, 0.78, 0.68, 0.61, 0.52, 0.44, 0.4, 0.37, 0.31, 0.27, 0.24, 0.21, 0.17, 0.07, 0.05, 0.02, 0.005, 0.005]
G_DFS_LO_CENS = [20, 25, 40, 55, 60, 70, 80, 100, 110, 222, 230, 375]
G_DFS_HI_CENS = [20, 30, 35, 45, 55, 65, 70, 95, 100, 110, 125, 130, 135, 165, 180, 225, 310]
G_DFS_STATS = ['Logrank p=0.0091', 'HR(high)=0.73', 'p(HR)=0.0093', 'n(high)=229', 'n(low)=229']

G_OS_LO_T = [0, 4, 8, 12, 17, 22, 25, 29, 34, 39, 44, 49, 54, 59, 64, 69, 83, 93, 106, 116, 126, 133, 140, 156, 170, 220, 232, 250, 301, 344, 364, 376]
G_OS_LO_S = [1, 0.98, 0.93, 0.866, 0.8, 0.748, 0.7, 0.662, 0.64, 0.609, 0.56, 0.512, 0.48, 0.448, 0.425, 0.405, 0.373, 0.352, 0.319, 0.298, 0.282, 0.255, 0.234, 0.201, 0.159, 0.137, 0.105, 0.081, 0.06, 0.04, 0.019, 0.019]
G_OS_HI_T = [0, 6, 10, 15, 20, 25, 30, 36, 41, 46, 51, 56, 61, 66, 69, 86, 99, 106, 116, 146, 156, 170, 176, 181, 205, 221, 272, 378]
G_OS_HI_S = [1, 0.99, 0.97, 0.94, 0.91, 0.877, 0.845, 0.812, 0.78, 0.748, 0.725, 0.705, 0.685, 0.662, 0.609, 0.593, 0.566, 0.534, 0.507, 0.496, 0.469, 0.437, 0.405, 0.357, 0.298, 0.266, 0.178, 0.178]
G_OS_LO_CI_T = [0, 10, 20, 30, 40, 50, 60, 75, 90, 105, 125, 145, 170, 220, 232, 250, 301, 344, 376]
G_OS_LO_UP = [1, 0.96, 0.85, 0.73, 0.67, 0.57, 0.5, 0.44, 0.41, 0.37, 0.33, 0.29, 0.21, 0.19, 0.15, 0.12, 0.1, 0.08, 0.08]
G_OS_LO_DN = [1, 0.87, 0.72, 0.62, 0.55, 0.45, 0.4, 0.34, 0.3, 0.27, 0.23, 0.19, 0.11, 0.09, 0.06, 0.04, 0.02, 0.005, 0.005]
G_OS_HI_CI_T = [0, 10, 20, 30, 40, 50, 60, 75, 90, 105, 125, 150, 170, 181, 205, 221, 272, 378]
G_OS_HI_UP = [1, 1.0, 0.96, 0.91, 0.85, 0.79, 0.75, 0.68, 0.66, 0.63, 0.58, 0.57, 0.51, 0.45, 0.42, 0.38, 0.44, 0.44]
G_OS_HI_DN = [1, 0.93, 0.86, 0.79, 0.71, 0.66, 0.62, 0.54, 0.51, 0.47, 0.43, 0.42, 0.36, 0.27, 0.22, 0.18, 0.08, 0.08]
G_OS_LO_CENS = [25, 30, 35, 60, 75, 85, 95, 110, 125, 130, 145, 150, 170, 200, 205, 376]
G_OS_HI_CENS = [10, 25, 35, 45, 50, 60, 65, 70, 72, 75, 80, 85, 90, 100, 110, 130, 135, 140, 145, 175, 180, 222, 240, 245, 305, 378]
G_OS_STATS = ['Logrank p=1.4e-06', 'HR(high)=0.52', 'p(HR)=2.2e-06', 'n(high)=229', 'n(low)=229']

# ===================== (h) PLA2G2D =====================
H_DFS_LO_T = [0, 2, 5, 9, 13, 17, 21, 26, 30, 37, 43, 50, 55, 60, 70, 77, 83, 92, 100, 110, 123, 130, 147, 157, 227, 300, 345, 375]
H_DFS_LO_S = [1, 0.93, 0.857, 0.79, 0.729, 0.67, 0.622, 0.59, 0.557, 0.472, 0.418, 0.343, 0.32, 0.3, 0.279, 0.257, 0.236, 0.215, 0.198, 0.182, 0.145, 0.134, 0.118, 0.102, 0.066, 0.043, 0.024, 0.024]
H_DFS_HI_T = [0, 3, 6, 10, 15, 20, 25, 30, 35, 40, 45, 50, 60, 73, 87, 93, 103, 120, 133, 143, 157, 170, 180, 188, 210, 250, 270, 308]
H_DFS_HI_S = [1, 0.93, 0.88, 0.836, 0.78, 0.729, 0.69, 0.654, 0.61, 0.568, 0.54, 0.514, 0.482, 0.439, 0.397, 0.359, 0.322, 0.311, 0.289, 0.263, 0.225, 0.209, 0.182, 0.129, 0.107, 0.07, 0.034, 0.034]
H_DFS_LO_CI_T = [0, 5, 10, 20, 30, 40, 50, 60, 77, 92, 110, 130, 157, 227, 300, 345, 375]
H_DFS_LO_UP = [1, 0.91, 0.83, 0.68, 0.61, 0.51, 0.4, 0.35, 0.31, 0.27, 0.23, 0.18, 0.14, 0.11, 0.09, 0.07, 0.07]
H_DFS_LO_DN = [1, 0.8, 0.71, 0.56, 0.5, 0.4, 0.29, 0.25, 0.21, 0.17, 0.14, 0.09, 0.07, 0.03, 0.02, 0.005, 0.005]
H_DFS_HI_CI_T = [0, 5, 10, 20, 30, 40, 50, 60, 75, 90, 105, 125, 145, 165, 188, 210, 250, 270, 308]
H_DFS_HI_UP = [1, 0.97, 0.89, 0.78, 0.71, 0.63, 0.57, 0.54, 0.49, 0.44, 0.37, 0.35, 0.31, 0.26, 0.23, 0.21, 0.21, 0.21, 0.21]
H_DFS_HI_DN = [1, 0.89, 0.78, 0.68, 0.6, 0.51, 0.45, 0.43, 0.38, 0.34, 0.27, 0.26, 0.22, 0.18, 0.08, 0.06, 0.03, 0.01, 0.01]
H_DFS_LO_CENS = [10, 20, 35, 50, 60, 70, 85, 130, 220, 250, 375]
H_DFS_HI_CENS = [10, 30, 35, 45, 55, 65, 70, 90, 95, 105, 110, 130, 135, 140, 155, 170, 180, 220, 308]
H_DFS_STATS = ['Logrank p=0.0014', 'HR(high)=0.68', 'p(HR)=0.0015', 'n(high)=229', 'n(low)=229']

H_OS_LO_T = [0, 4, 8, 11, 15, 18, 22, 25, 28, 32, 37, 42, 48, 55, 60, 65, 72, 82, 92, 102, 115, 126, 139, 152, 169, 230, 251, 302, 345, 362, 376]
H_OS_LO_S = [1, 0.98, 0.94, 0.877, 0.84, 0.802, 0.76, 0.716, 0.68, 0.641, 0.61, 0.577, 0.534, 0.491, 0.46, 0.427, 0.394, 0.378, 0.357, 0.335, 0.298, 0.271, 0.234, 0.196, 0.164, 0.116, 0.092, 0.071, 0.046, 0.025, 0.025]
H_OS_HI_T = [0, 6, 10, 15, 20, 25, 32, 37, 42, 47, 52, 58, 65, 72, 82, 102, 109, 115, 129, 146, 159, 169, 176, 181, 206, 219, 273, 381]
H_OS_HI_S = [1, 0.99, 0.97, 0.93, 0.91, 0.887, 0.834, 0.81, 0.78, 0.755, 0.727, 0.705, 0.662, 0.62, 0.598, 0.577, 0.528, 0.507, 0.496, 0.48, 0.459, 0.432, 0.394, 0.341, 0.287, 0.234, 0.159, 0.159]
H_OS_LO_CI_T = [0, 10, 20, 30, 40, 50, 60, 75, 90, 105, 125, 150, 169, 230, 251, 302, 345, 376]
H_OS_LO_UP = [1, 0.95, 0.85, 0.73, 0.64, 0.57, 0.51, 0.44, 0.41, 0.39, 0.33, 0.25, 0.21, 0.16, 0.14, 0.12, 0.09, 0.09]
H_OS_LO_DN = [1, 0.86, 0.74, 0.62, 0.53, 0.47, 0.39, 0.33, 0.3, 0.28, 0.22, 0.15, 0.12, 0.07, 0.05, 0.03, 0.01, 0.01]
H_OS_HI_CI_T = [0, 10, 20, 30, 40, 50, 60, 75, 90, 105, 125, 150, 170, 181, 206, 219, 273, 381]
H_OS_HI_UP = [1, 1.0, 0.97, 0.91, 0.85, 0.8, 0.76, 0.69, 0.66, 0.64, 0.58, 0.56, 0.51, 0.45, 0.4, 0.377, 0.39, 0.39]
H_OS_HI_DN = [1, 0.93, 0.86, 0.78, 0.71, 0.66, 0.63, 0.56, 0.53, 0.5, 0.45, 0.42, 0.36, 0.27, 0.22, 0.17, 0.09, 0.09]
H_OS_LO_CENS = [18, 25, 32, 75, 80, 90, 100, 110, 125, 135, 140, 145, 150, 170, 200, 205, 376]
H_OS_HI_CENS = [15, 20, 35, 40, 45, 50, 55, 60, 65, 70, 75, 80, 95, 100, 110, 115, 130, 135, 140, 160, 170, 178, 222, 245, 305, 381]
H_OS_STATS = ['Logrank p=7.3e-07', 'HR(high)=0.51', 'p(HR)=1.1e-06', 'n(high)=229', 'n(low)=229']

# ===================== (i) XCL2 =====================
I_DFS_LO_T = [0, 2, 5, 8, 12, 16, 19, 25, 30, 35, 42, 50, 55, 59, 69, 79, 85, 95, 109, 122, 132, 155, 222, 269, 299, 345]
I_DFS_LO_S = [1, 0.92, 0.839, 0.78, 0.732, 0.69, 0.646, 0.582, 0.53, 0.486, 0.432, 0.368, 0.345, 0.325, 0.293, 0.26, 0.239, 0.212, 0.185, 0.159, 0.134, 0.105, 0.0675, 0.048, 0.0225, 0.0]
I_DFS_HI_T = [0, 3, 6, 9, 14, 19, 24, 29, 34, 39, 44, 49, 55, 62, 75, 85, 92, 105, 122, 135, 145, 155, 169, 181, 185, 209, 249, 375]
I_DFS_HI_S = [1, 0.94, 0.88, 0.828, 0.77, 0.721, 0.69, 0.657, 0.62, 0.582, 0.545, 0.507, 0.48, 0.464, 0.443, 0.41, 0.368, 0.325, 0.309, 0.293, 0.255, 0.239, 0.212, 0.175, 0.126, 0.1, 0.0675, 0.0675]
I_DFS_LO_CI_T = [0, 5, 10, 20, 30, 40, 50, 60, 75, 95, 122, 155, 222, 269, 299, 345]
I_DFS_LO_UP = [1, 0.9, 0.81, 0.69, 0.59, 0.5, 0.42, 0.38, 0.32, 0.26, 0.21, 0.15, 0.12, 0.1, 0.08, 0.08]
I_DFS_LO_DN = [1, 0.79, 0.69, 0.58, 0.47, 0.38, 0.31, 0.27, 0.22, 0.17, 0.12, 0.07, 0.04, 0.02, 0.005, 0.005]
I_DFS_HI_CI_T = [0, 5, 10, 20, 30, 40, 50, 60, 75, 92, 105, 125, 145, 165, 185, 209, 249, 375]
I_DFS_HI_UP = [1, 0.97, 0.9, 0.78, 0.72, 0.64, 0.57, 0.53, 0.5, 0.43, 0.39, 0.37, 0.33, 0.27, 0.22, 0.21, 0.2, 0.2]
I_DFS_HI_DN = [1, 0.89, 0.77, 0.66, 0.6, 0.52, 0.44, 0.41, 0.38, 0.31, 0.26, 0.24, 0.2, 0.16, 0.07, 0.05, 0.02, 0.02]
I_DFS_LO_CENS = [20, 35, 50, 55, 60, 70, 75, 80, 125, 225, 250]
I_DFS_HI_CENS = [15, 30, 35, 45, 60, 65, 70, 75, 95, 100, 110, 125, 130, 135, 140, 170, 180, 220, 308, 375]
I_DFS_STATS = ['Logrank p=0.0016', 'HR(high)=0.68', 'p(HR)=0.0017', 'n(high)=228', 'n(low)=227']

I_OS_LO_T = [0, 4, 8, 11, 15, 18, 22, 25, 28, 32, 37, 42, 48, 53, 58, 68, 79, 85, 95, 105, 115, 129, 139, 152, 172, 219, 231, 253, 273, 303, 345, 364]
I_OS_LO_S = [1, 0.98, 0.94, 0.898, 0.85, 0.812, 0.77, 0.737, 0.69, 0.652, 0.625, 0.598, 0.534, 0.51, 0.491, 0.448, 0.427, 0.394, 0.373, 0.341, 0.319, 0.293, 0.255, 0.234, 0.164, 0.137, 0.105, 0.081, 0.06, 0.043, 0.021, 0.0]
I_OS_HI_T = [0, 6, 10, 15, 20, 25, 30, 35, 40, 45, 50, 55, 62, 68, 75, 102, 109, 122, 146, 159, 169, 177, 181, 208, 223, 376]
I_OS_HI_S = [1, 0.99, 0.97, 0.941, 0.91, 0.877, 0.85, 0.823, 0.79, 0.759, 0.73, 0.705, 0.673, 0.598, 0.577, 0.56, 0.512, 0.48, 0.469, 0.448, 0.416, 0.384, 0.335, 0.282, 0.255, 0.255]
I_OS_LO_CI_T = [0, 10, 20, 30, 40, 50, 60, 75, 90, 105, 125, 150, 172, 219, 253, 303, 345, 364]
I_OS_LO_UP = [1, 0.96, 0.87, 0.75, 0.67, 0.59, 0.53, 0.48, 0.44, 0.4, 0.35, 0.29, 0.21, 0.19, 0.14, 0.1, 0.07, 0.07]
I_OS_LO_DN = [1, 0.88, 0.76, 0.63, 0.55, 0.47, 0.42, 0.38, 0.33, 0.29, 0.24, 0.18, 0.12, 0.09, 0.05, 0.02, 0.005, 0.005]
I_OS_HI_CI_T = [0, 10, 20, 30, 40, 50, 62, 75, 90, 105, 125, 150, 169, 181, 223, 376]
I_OS_HI_UP = [1, 1.0, 0.97, 0.91, 0.86, 0.8, 0.74, 0.68, 0.67, 0.64, 0.57, 0.56, 0.5, 0.43, 0.4, 0.4]
I_OS_HI_DN = [1, 0.93, 0.86, 0.79, 0.72, 0.66, 0.6, 0.52, 0.5, 0.46, 0.42, 0.41, 0.35, 0.26, 0.16, 0.16]
I_OS_LO_CENS = [15, 25, 35, 48, 60, 70, 80, 90, 100, 130, 140, 145, 150, 200, 205, 364]
I_OS_HI_CENS = [15, 20, 30, 40, 45, 55, 60, 65, 70, 75, 80, 85, 90, 95, 110, 130, 135, 140, 145, 150, 170, 180, 225, 245, 305, 376]
I_OS_STATS = ['Logrank p=2.7e-06', 'HR(high)=0.53', 'p(HR)=3.8e-06', 'n(high)=228', 'n(low)=227']

# ---------- layout (pixel boxes: left, right, top, bottom) ----------
PANEL_BOXES = {
    'A_DFS': (91, 444, 32, 367), 'A_OS': (578, 932, 32, 367),
    'B_DFS': (1068, 1422, 30, 365), 'B_OS': (1540, 1894, 26, 362),
    'C_DFS': (87, 440, 503, 839), 'C_OS': (578, 931, 503, 839),
    'D_DFS': (1065, 1419, 498, 833), 'D_OS': (1542, 1895, 503, 838),
    'E_DFS': (91, 444, 978, 1313), 'E_OS': (578, 932, 974, 1310),
    'F_DFS': (1065, 1419, 969, 1305), 'F_OS': (1542, 1895, 966, 1301),
    'G_DFS': (91, 446, 1453, 1789), 'G_OS': (578, 932, 1453, 1789),
    'H_DFS': (1063, 1417, 1447, 1782), 'H_OS': (1542, 1895, 1443, 1778),
    'I_DFS': (95, 449, 1929, 2265), 'I_OS': (582, 935, 1927, 2263),
}
LABEL_POS = [(24, 21), (990, 20), (22, 477), (989, 478), (22, 958), (986, 958), (22, 1435), (990, 1433), (20, 1912)]

G = globals()
PANELS = []
for gi, letter in enumerate('ABCDEFGHI'):
    for ti, kind in enumerate(['DFS', 'OS']):
        p = letter + '_' + kind
        PANELS.append(dict(
            key=p, gene=GENES[gi], title=TITLES[ti], box=PANEL_BOXES[p],
            lo_t=G[p + '_LO_T'], lo_s=G[p + '_LO_S'], hi_t=G[p + '_HI_T'], hi_s=G[p + '_HI_S'],
            lo_ci_t=G[p + '_LO_CI_T'], lo_up=G[p + '_LO_UP'], lo_dn=G[p + '_LO_DN'],
            hi_ci_t=G[p + '_HI_CI_T'], hi_up=G[p + '_HI_UP'], hi_dn=G[p + '_HI_DN'],
            lo_c=G[p + '_LO_CENS'], hi_c=G[p + '_HI_CENS'], stats=G[p + '_STATS']))

AW = {' ': 278, 'A': 667, 'B': 667, 'C': 722, 'D': 722, 'E': 667, 'F': 611, 'G': 778, 'H': 722,
      'I': 278, 'J': 500, 'K': 667, 'L': 556, 'M': 833, 'N': 722, 'O': 778, 'P': 667, 'R': 722,
      'X': 667, 'Z': 611, 'a': 556, 'g': 556, 'h': 556, 'i': 222, 'o': 556, 'p': 556, 'r': 333,
      'u': 556, 'w': 722}


def text_w(s, size):
    return sum(AW.get(c, 556) for c in s) / 1000.0 * size


def step_at(ts, ss, t):
    val = ss[0]
    for a, b in zip(ts, ss):
        if a <= t:
            val = b
    return val


def PX(x):
    return x / FIG_W


def PY(y):
    return 1 - y / FIG_H


fig = go.Figure()
layout = dict(width=FIG_W, height=FIG_H, margin=dict(l=0, r=0, t=0, b=0),
              paper_bgcolor='white', plot_bgcolor='white', showlegend=False)
annotations = []
shapes = []

LEG_FS = 15
for i, P in enumerate(PANELS):
    n = i + 1
    xa = 'x' if n == 1 else 'x%d' % n
    ya = 'y' if n == 1 else 'y%d' % n
    l, r, t, b = P['box']
    layout['xaxis' if n == 1 else 'xaxis%d' % n] = dict(
        domain=[PX(l), PX(r)], range=[0, 390], anchor=ya, showline=True, mirror=True,
        linecolor='#5a5a5a', linewidth=1.8, ticks='outside', ticklen=9, tickwidth=1.5,
        tickcolor='#5a5a5a', tickvals=X_TICKS, showgrid=False, zeroline=False,
        tickfont=dict(family=FONT, size=15, color='#222'), ticklabelstandoff=4)
    layout['yaxis' if n == 1 else 'yaxis%d' % n] = dict(
        domain=[PY(b), PY(t)], range=[-0.04, 1.04], anchor=xa, showline=True, mirror=True,
        linecolor='#5a5a5a', linewidth=1.8, ticks='', tickvals=Y_TICKS, ticktext=Y_TICK_TEXT,
        tickangle=-90, showgrid=False, zeroline=False,
        tickfont=dict(family=FONT, size=14, color='#333'), ticklabelstandoff=12)

    for ct, up, dn, col in [(P['lo_ci_t'], P['lo_up'], P['lo_dn'], BLUE_CI),
                            (P['hi_ci_t'], P['hi_up'], P['hi_dn'], RED_CI)]:
        for yy in (up, dn):
            fig.add_trace(go.Scatter(x=ct, y=yy, mode='lines', line=dict(color=col, width=1.1, dash='dot', shape='hv'),
                                     xaxis=xa, yaxis=ya, hoverinfo='skip'))
    for ts, ss, col in [(P['lo_t'], P['lo_s'], BLUE), (P['hi_t'], P['hi_s'], RED)]:
        fig.add_trace(go.Scatter(x=ts, y=ss, mode='lines', line=dict(color=col, width=2.2, shape='hv'),
                                 xaxis=xa, yaxis=ya))
    for ts, ss, cs, col in [(P['lo_t'], P['lo_s'], P['lo_c'], BLUE), (P['hi_t'], P['hi_s'], P['hi_c'], RED)]:
        fig.add_trace(go.Scatter(x=cs, y=[step_at(ts, ss, c) for c in cs], mode='markers',
                                 marker=dict(symbol='cross-thin', size=9, line=dict(width=1.4, color=col)),
                                 xaxis=xa, yaxis=ya))

    cx = (l + r) / 2
    cy = (t + b) / 2
    annotations.append(dict(text=P['title'], x=PX(cx), y=PY(t - 15), xref='paper', yref='paper',
                            showarrow=False, xanchor='center', yanchor='middle',
                            font=dict(family=FONT, size=22, color='#111')))
    annotations.append(dict(text='Percent survival', x=PX(l - 55), y=PY(cy), xref='paper', yref='paper',
                            showarrow=False, xanchor='center', yanchor='middle', textangle=-90,
                            font=dict(family=FONT, size=19, color='#222')))
    annotations.append(dict(text='Months', x=PX(cx), y=PY(b + 51), xref='paper', yref='paper',
                            showarrow=False, xanchor='center', yanchor='middle',
                            font=dict(family=FONT, size=19, color='#222')))
    lo_lab = 'Low %s Group' % P['gene']
    hi_lab = 'High %s Group' % P['gene']
    tl = r - 6 - text_w(hi_lab, LEG_FS)
    for lab, dy, col in [(lo_lab, 16.6, BLUE), (hi_lab, 30.6, RED)]:
        annotations.append(dict(text=lab, x=PX(tl), y=PY(t + dy), xref='paper', yref='paper',
                                showarrow=False, xanchor='left', yanchor='middle',
                                font=dict(family=FONT, size=LEG_FS, color='#222')))
        shapes.append(dict(type='line', xref='paper', yref='paper', x0=PX(tl - 33), x1=PX(tl - 5),
                           y0=PY(t + dy), y1=PY(t + dy), line=dict(color=col, width=2.4)))
    for k, s in enumerate(P['stats']):
        annotations.append(dict(text=s, x=PX(r - 8), y=PY(t + 48.3 + 17.6 * k), xref='paper', yref='paper',
                                showarrow=False, xanchor='right', yanchor='middle',
                                font=dict(family=FONT, size=LEG_FS, color='#222')))

for lab, (lx, ly) in zip(PANEL_LETTERS, LABEL_POS):
    annotations.append(dict(text=lab, x=PX(lx), y=PY(ly), xref='paper', yref='paper', showarrow=False,
                            xanchor='center', yanchor='middle', font=dict(family=SERIF, size=36, color='#111')))

layout['annotations'] = annotations
layout['shapes'] = shapes
fig.update_layout(**layout)
fig.write_html('out.html',
               config={'displayModeBar': False, 'staticPlot': True},
               post_script="document.body.style.margin='0';document.body.style.padding='0';"
                           "document.body.style.overflow='hidden';"
                           "document.documentElement.style.overflow='hidden';")
